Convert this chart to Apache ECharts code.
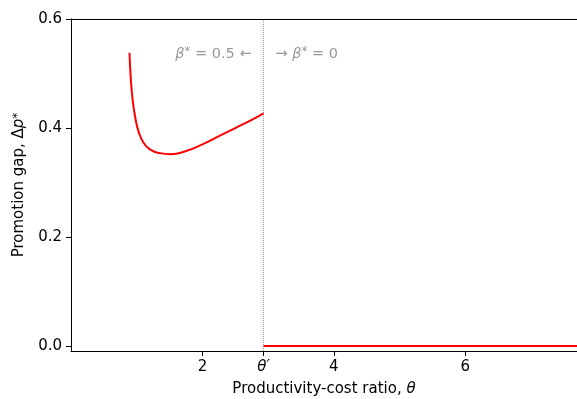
<!DOCTYPE html>
<html>
<head>
<meta charset="utf-8">
<script src="https://cdn.jsdelivr.net/npm/echarts@6/dist/echarts.min.js"></script>
<style>
  html, body { margin: 0; padding: 0; background: #fff; }
  #chart { width: 577px; height: 399px; }
</style>
</head>
<body>
<div id="chart"></div>
<script>
// threshold theta' where beta* jumps from 0.5 to 0
const thetaPrime = 2.93

// promotion gap curve for beta* = 0.5
const curveTheta = [0.89, 0.91, 0.94, 0.98, 1.03, 1.10, 1.20, 1.35, 1.52, 1.75, 2.00, 2.25, 2.50, 2.75, 2.93]
const curveGap = [0.538, 0.490, 0.450, 0.418, 0.393, 0.374, 0.361, 0.354, 0.352, 0.358, 0.370, 0.385, 0.400, 0.415, 0.427]

// beta* = 0 branch: gap is zero
const flatTheta = [2.93, 7.7]
const flatGap = [0, 0]

const xTicks = [2, thetaPrime, 4, 6]
const yTicks = [0, 0.2, 0.4, 0.6]
const xRange = [0, 7.7]
const yRange = [-0.009, 0.6]
const noteY = 0.536

const font = 'DejaVu Sans'
const fs = 15
const chart = echarts.init(document.getElementById('chart'))

const zip = (a, b) => a.map((v, i) => [v, b[i]])

chart.setOption({
  animation: false,
  grid: { left: 71, right: 0, top: 19, bottom: 48, outerBoundsMode: 'none', containLabel: false },
  xAxis: [
    {
      type: 'value',
      min: xRange[0],
      max: xRange[1],
      name: '{n|Productivity-cost ratio, }{it|θ}',
      nameLocation: 'middle',
      nameGap: 31,
      nameTextStyle: {
        rich: {
          n: { fontFamily: font, fontSize: fs, color: '#000' },
          it: { fontFamily: font, fontSize: fs, fontStyle: 'italic', color: '#000' }
        }
      },
      axisLine: { show: true, onZero: false, lineStyle: { color: '#000', width: 1 } },
      axisTick: { show: true, customValues: xTicks, length: 5, lineStyle: { color: '#000' } },
      axisLabel: {
        customValues: xTicks,
        margin: 9,
        fontFamily: font,
        fontSize: fs,
        color: '#000',
        formatter: function (v) {
          if (Math.abs(v - thetaPrime) < 1e-6) return '{it|θ′}'
          return String(v)
        },
        rich: {
          it: { fontFamily: font, fontSize: fs, fontStyle: 'italic', color: '#000' }
        }
      },
      splitLine: { show: false }
    },
    {
      // top spine only
      type: 'value',
      position: 'top',
      min: xRange[0],
      max: xRange[1],
      axisLine: { show: true, onZero: false, lineStyle: { color: '#000', width: 1 } },
      axisTick: { show: false },
      axisLabel: { show: false },
      splitLine: { show: false }
    }
  ],
  yAxis: {
    type: 'value',
    min: yRange[0],
    max: yRange[1],
    name: '{n|Promotion gap, Δ}{it|p}{sup|*}',
    nameLocation: 'middle',
    nameGap: 44,
    nameTextStyle: {
      rich: {
        n: { fontFamily: font, fontSize: fs, color: '#000' },
        it: { fontFamily: font, fontSize: fs, fontStyle: 'italic', color: '#000' },
        sup: { fontFamily: font, fontSize: 12, color: '#000', verticalAlign: 'top', padding: [0, 0, 3, 0] }
      }
    },
    axisLine: { show: true, onZero: false, lineStyle: { color: '#000', width: 1 } },
    axisTick: { show: true, customValues: yTicks, length: 5, lineStyle: { color: '#000' } },
    axisLabel: {
      customValues: yTicks,
      margin: 9,
      fontFamily: font,
      fontSize: fs,
      color: '#000',
      formatter: v => v.toFixed(1)
    },
    splitLine: { show: false }
  },
  series: [
    {
      // dotted marker at theta'
      type: 'line',
      data: [[thetaPrime, yRange[0]], [thetaPrime, yRange[1]]],
      symbol: 'none',
      silent: true,
      lineStyle: { color: '#9a9a9a', width: 1, type: [1, 1] },
      z: 1
    },
    {
      type: 'line',
      data: zip(curveTheta, curveGap),
      symbol: 'none',
      smooth: 0.5,
      lineStyle: { color: '#ff0000', width: 2 },
      z: 3
    },
    {
      type: 'line',
      data: zip(flatTheta, flatGap),
      symbol: 'none',
      lineStyle: { color: '#ff0000', width: 2 },
      z: 3
    },
    {
      // annotations either side of theta'
      type: 'scatter',
      symbolSize: 0,
      silent: true,
      data: [
        {
          value: [thetaPrime, noteY],
          label: { position: 'left', distance: 12, formatter: '{it|β}{sup|*}{n| = 0.5 ←}' }
        },
        {
          value: [thetaPrime, noteY],
          label: { position: 'right', distance: 12, formatter: '{n|→ }{it|β}{sup|*}{n| = 0}' }
        }
      ],
      label: {
        show: true,
        rich: {
          n: { fontFamily: font, fontSize: 14.5, color: '#808080' },
          it: { fontFamily: font, fontSize: 14.5, fontStyle: 'italic', color: '#808080' },
          sup: { fontFamily: font, fontSize: 11.5, color: '#808080', verticalAlign: 'top', padding: [0, 0, 3, 0] }
        }
      }
    }
  ]
})
</script>
</body>
</html>
